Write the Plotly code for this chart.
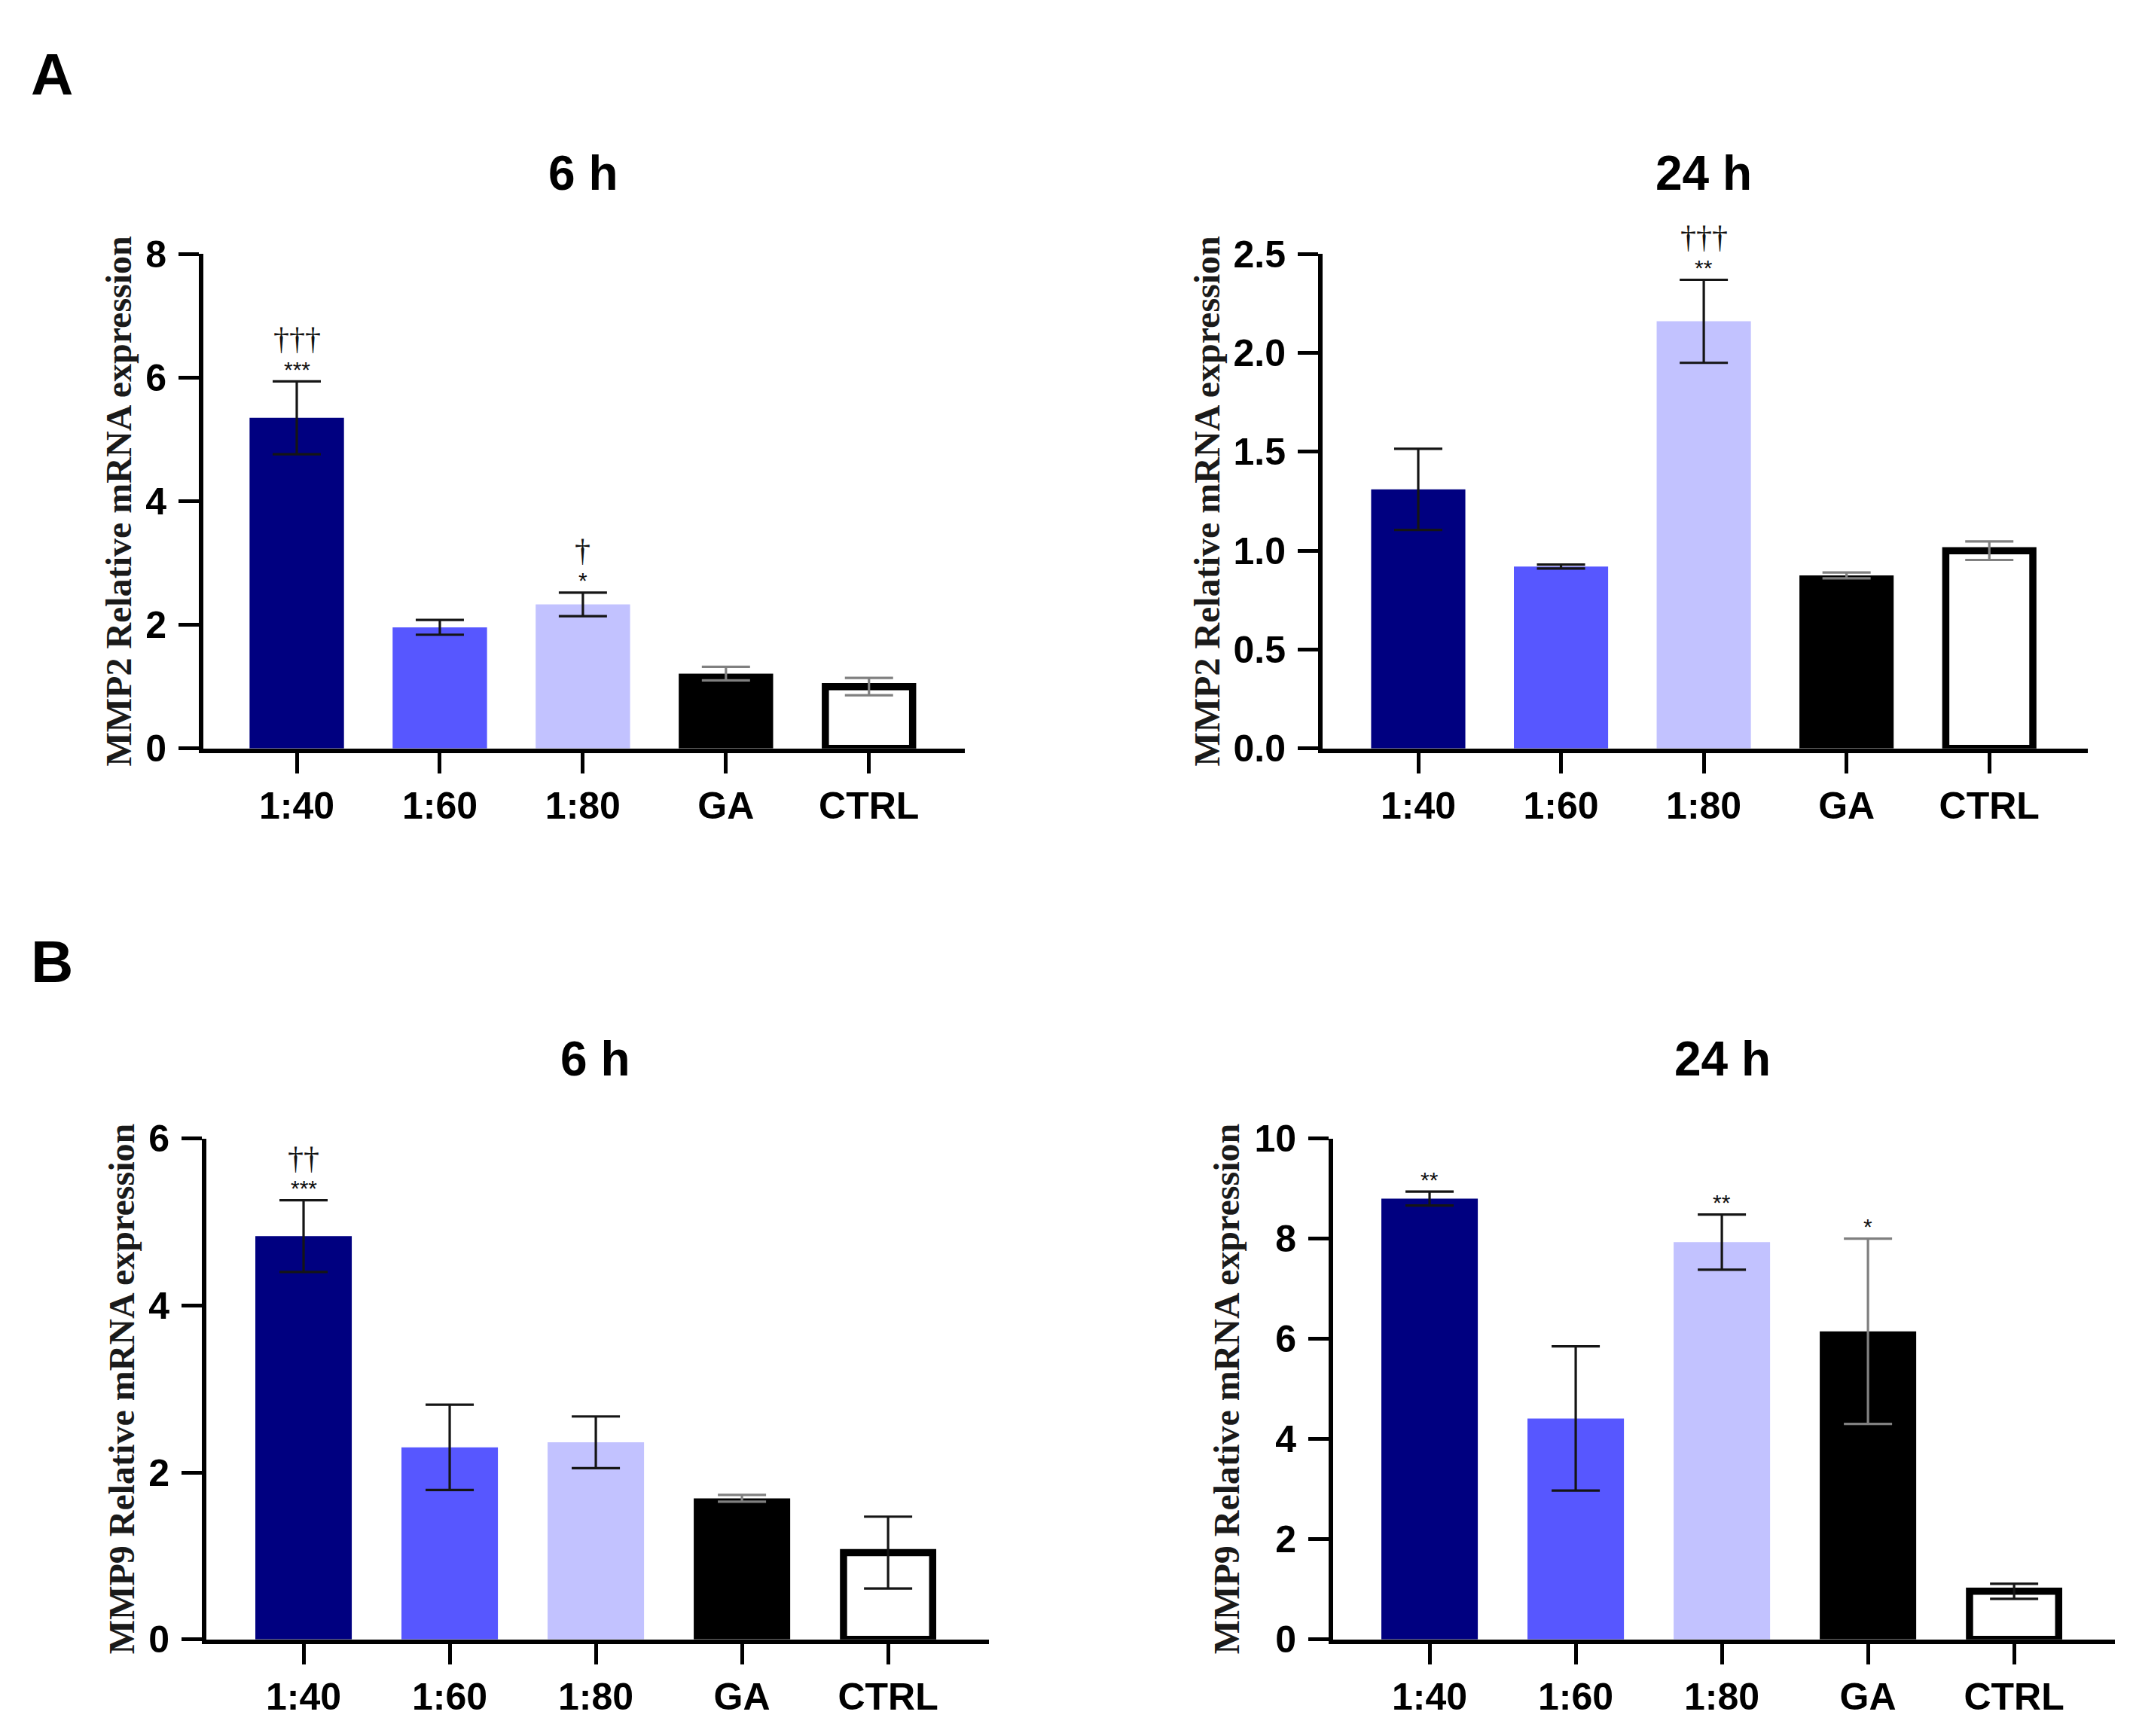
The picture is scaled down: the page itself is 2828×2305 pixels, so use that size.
import plotly.graph_objects as go

W, H = 2828, 2305

categories = ["1:40", "1:60", "1:80", "GA", "CTRL"]

mmp2_6h_mean = [5.35, 1.96, 2.33, 1.21, 1.00]
mmp2_6h_sem = [0.59, 0.12, 0.19, 0.11, 0.14]
mmp2_24h_mean = [1.31, 0.92, 2.16, 0.875, 1.00]
mmp2_24h_sem = [0.205, 0.01, 0.21, 0.015, 0.047]
mmp9_6h_mean = [4.83, 2.30, 2.36, 1.69, 1.04]
mmp9_6h_sem = [0.43, 0.51, 0.31, 0.04, 0.43]
mmp9_24h_mean = [8.80, 4.41, 7.93, 6.15, 0.96]
mmp9_24h_sem = [0.14, 1.44, 0.55, 1.85, 0.15]

mmp2_6h_stars = ["***", "", "*", "", ""]
mmp2_6h_daggers = ["†††", "", "†", "", ""]
mmp2_24h_stars = ["", "", "**", "", ""]
mmp2_24h_daggers = ["", "", "†††", "", ""]
mmp9_6h_stars = ["***", "", "", "", ""]
mmp9_6h_daggers = ["††", "", "", "", ""]
mmp9_24h_stars = ["**", "", "**", "*", ""]
mmp9_24h_daggers = ["", "", "", "", ""]

panel_titles = ["6 h", "24 h", "6 h", "24 h"]
y_titles = ["MMP2 Relative mRNA expression", "MMP2 Relative mRNA expression",
            "MMP9 Relative mRNA expression", "MMP9 Relative mRNA expression"]
y_max = [8, 2.5, 6, 10]
y_dtick = [2, 0.5, 2, 2]

# styling
fill_colors = {"1:40": "#000080", "1:60": "#5757FF", "1:80": "#C2C2FF", "GA": "#000000", "CTRL": "#FFFFFF"}
DARK, GREY = "#151515", "#808080"
err_colors = [
    {"1:40": DARK, "1:60": DARK, "1:80": DARK, "GA": GREY, "CTRL": GREY},
    {"1:40": DARK, "1:60": DARK, "1:80": DARK, "GA": GREY, "CTRL": GREY},
    {"1:40": DARK, "1:60": DARK, "1:80": DARK, "GA": GREY, "CTRL": DARK},
    {"1:40": DARK, "1:60": DARK, "1:80": DARK, "GA": GREY, "CTRL": DARK},
]
SANS = "Liberation Sans, Arial, sans-serif"
SERIF = "Liberation Serif, Times New Roman, serif"

# panel geometry in pixels: (x0, x1, y_top, y_bottom), x range
geom = [
    (262, 1273, 309, 982, (-0.653, 4.67)),
    (1748, 2764, 309, 982, (-0.67, 4.69)),
    (266, 1305, 1513, 2195, (-0.665, 4.69)),
    (1762, 2800, 1513, 2195, (-0.66, 4.69)),
]
ytitle_x = [150, 1595, 153, 1620]
title_pos = [(766, 199), (2254, 199), (782, 1405), (2279, 1405)]

means = [mmp2_6h_mean, mmp2_24h_mean, mmp9_6h_mean, mmp9_24h_mean]
sems = [mmp2_6h_sem, mmp2_24h_sem, mmp9_6h_sem, mmp9_24h_sem]
stars = [mmp2_6h_stars, mmp2_24h_stars, mmp9_6h_stars, mmp9_24h_stars]
daggers = [mmp2_6h_daggers, mmp2_24h_daggers, mmp9_6h_daggers, mmp9_24h_daggers]

fig = go.Figure()
annotations = []
layout_axes = {}

for p in range(4):
    sfx = "" if p == 0 else str(p + 1)
    xa, ya = "x" + sfx, "y" + sfx
    for i, cat in enumerate(categories):
        is_ctrl = cat == "CTRL"
        fig.add_trace(go.Bar(
            x=[cat], y=[means[p][i]], xaxis=xa, yaxis=ya,
            width=0.61 if is_ctrl else 0.66,
            marker=dict(color=fill_colors[cat],
                        line=dict(color="#000000", width=9.5 if is_ctrl else 0)),
            error_y=dict(type="data", array=[sems[p][i]], visible=True,
                         color=err_colors[p][cat], thickness=3.2, width=32),
            showlegend=False, hoverinfo="skip",
        ))
        top = means[p][i] + sems[p][i]
        if stars[p][i]:
            annotations.append(dict(x=cat, y=top, xref=xa, yref=ya, text=stars[p][i],
                                    showarrow=False, yanchor="middle", yshift=16,
                                    font=dict(family=SANS, size=30, color="#111")))
        if daggers[p][i]:
            annotations.append(dict(x=cat, y=top, xref=xa, yref=ya, text=daggers[p][i],
                                    showarrow=False, yanchor="middle", yshift=56,
                                    font=dict(family=SERIF, size=42, color="#111")))

    x0, x1, yt, yb, xr = geom[p]
    layout_axes["xaxis" + sfx] = dict(
        domain=[x0 / W, x1 / W], anchor=ya, range=list(xr),
        type="category", categoryorder="array", categoryarray=categories,
        showline=True, linecolor="black", linewidth=6,
        ticks="outside", ticklen=27, tickwidth=5, tickcolor="black",
        tickfont=dict(family=SANS, size=50, color="black", weight="bold"),
        ticklabelstandoff=0,
        showgrid=False, zeroline=False, fixedrange=True,
    )
    layout_axes["yaxis" + sfx] = dict(
        domain=[1 - yb / H, 1 - yt / H], anchor=xa, range=[0, y_max[p]],
        dtick=y_dtick[p], tick0=0,
        tickformat=".1f" if p == 1 else "d",
        showline=True, linecolor="black", linewidth=6,
        ticks="outside", ticklen=27, tickwidth=5, tickcolor="black",
        tickfont=dict(family=SANS, size=50, color="black", weight="bold"),
        ticklabelstandoff=6,
        showgrid=False, zeroline=False, fixedrange=True,
    )
    annotations.append(dict(x=ytitle_x[p] / W, y=1 - (yt + yb) / 2 / H, xref="paper", yref="paper",
                            text=y_titles[p], textangle=-90, showarrow=False,
                            xanchor="center", yanchor="middle",
                            font=dict(family=SERIF, size=48, color="#1a1a1a", weight="bold")))
    tx, ty = title_pos[p]
    annotations.append(dict(x=tx / W, y=1 - ty / H, xref="paper", yref="paper",
                            text=panel_titles[p], showarrow=False,
                            xanchor="center", yanchor="middle",
                            font=dict(family=SANS, size=64, color="black", weight="bold")))

for lab, (lx, ly) in {"A": (61, 65), "B": (61, 1272)}.items():
    annotations.append(dict(x=lx / W, y=1 - ly / H, xref="paper", yref="paper",
                            text=lab, showarrow=False, xanchor="center", yanchor="middle",
                            font=dict(family=SANS, size=78, color="black", weight="bold")))

fig.update_layout(
    width=W, height=H, margin=dict(l=0, r=0, t=0, b=0),
    paper_bgcolor="white", plot_bgcolor="white",
    barmode="overlay", annotations=annotations, **layout_axes,
)

fig.write_html("out.html")
